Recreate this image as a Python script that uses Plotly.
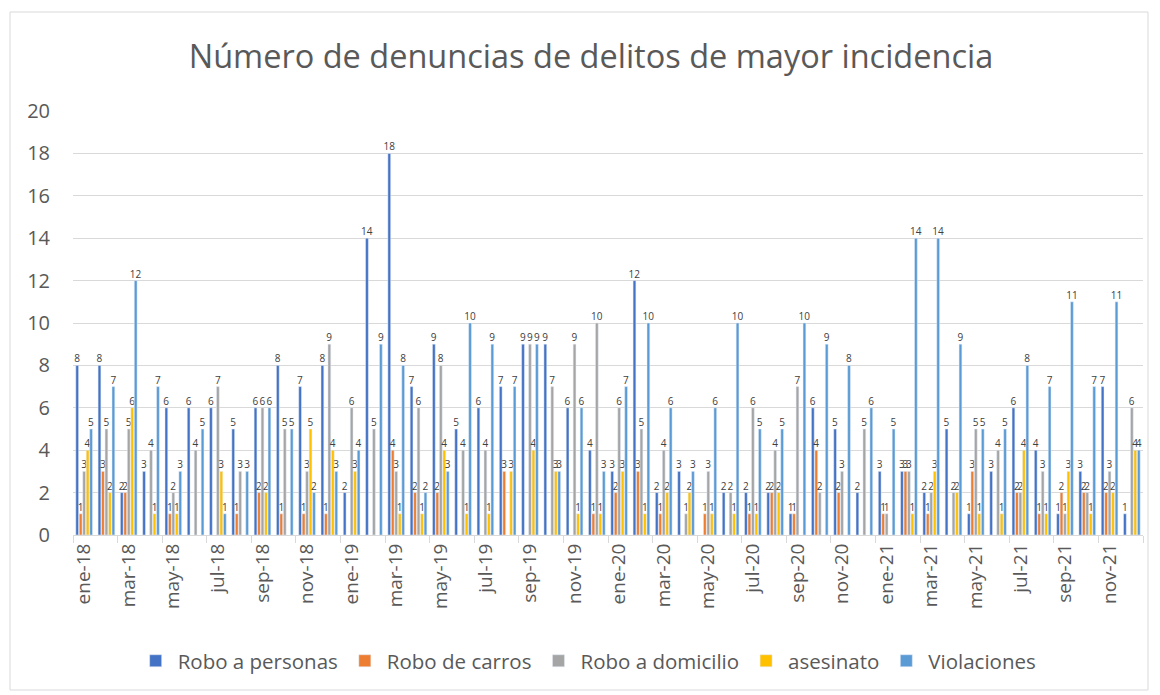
import plotly.graph_objects as go

# month labels ene-18 ... dic-21
meses = ["ene", "feb", "mar", "abr", "may", "jun", "jul", "ago", "sep", "oct", "nov", "dic"]
anios = ["18", "19", "20", "21"]
periodos = [f"{m}-{a}" for a in anios for m in meses]

robo_personas = [8, 8, 2, 3, 6, 6, 6, 5, 6, 8, 7, 8,
                 2, 14, 18, 7, 9, 5, 6, 7, 9, 9, 6, 4,
                 3, 12, 2, 3, None, 2, 2, 2, 1, 6, 5, 2,
                 3, 3, 2, 5, 1, 3, 6, 4, 1, 3, 7, 1]
robo_carros = [1, 3, 2, None, 1, None, None, 1, 2, 1, 1, 1,
               None, None, 4, 2, 2, None, None, 3, None, None, None, 1,
               2, 3, 1, None, 1, None, 1, 2, 1, 4, 2, None,
               1, 3, 1, None, 3, None, 2, 1, 2, 2, 2, None]
robo_domicilio = [3, 5, 5, 4, 2, 4, 7, 3, 6, 5, 3, 9,
                  6, 5, 3, 6, 8, 4, 4, None, 9, 7, 9, 10,
                  6, 5, 4, 1, 3, 2, 6, 4, 7, 2, 3, 5,
                  1, 3, 2, 2, 5, 4, 2, 3, 1, 2, 3, 6]
asesinato = [4, 2, 6, 1, 1, None, 3, None, 2, None, 5, 4,
             3, None, 1, 1, 4, 1, 1, 3, 4, 3, 1, 1,
             3, 1, 2, 2, 1, 1, 1, 2, None, None, None, None,
             None, 1, 3, 2, 1, 1, 4, 1, 3, 1, 2, 4]
violaciones = [5, 7, 12, 7, 3, 5, 1, 3, 6, 5, 2, 3,
               4, 9, 8, 2, 3, 10, 9, 7, 9, 3, 6, 3,
               7, 10, 6, 3, 6, 10, 5, 5, 10, 9, 8, 6,
               5, 14, 14, 9, 5, 5, 8, 7, 11, 7, 11, 4]

series = [
    ("Robo a personas", robo_personas, "#4472C4"),
    ("Robo de carros", robo_carros, "#ED7D31"),
    ("Robo a domicilio", robo_domicilio, "#A5A5A5"),
    ("asesinato", asesinato, "#FFC000"),
    ("Violaciones", violaciones, "#5B9BD5"),
]

FONT = "Open Sans"
GRAY = "#595959"

# page body has an 8px margin, so the figure is drawn 8px in from the corner
W, H = 1152, 687
L, T, PW, PH = 65, 103, 1070, 424

fig = go.Figure()
for name, vals, color in series:
    fig.add_trace(
        go.Bar(
            x=periodos,
            y=vals,
            name=name,
            marker_color=color,
            text=["" if v is None else str(v) for v in vals],
            textposition="outside",
            textfont=dict(family=FONT, size=10, color="#404040"),
            constraintext="none",
            cliponaxis=False,
        )
    )

fig.update_layout(
    width=W,
    height=H,
    barmode="group",
    bargap=0.22,
    bargroupgap=0.2,
    plot_bgcolor="white",
    paper_bgcolor="white",
    margin=dict(l=L, r=W - L - PW, t=T, b=H - T - PH, autoexpand=False),
    font=dict(family=FONT, color=GRAY),
    title=dict(
        text="Número de denuncias de delitos de mayor incidencia",
        x=583 / W,
        xanchor="center",
        y=1 - 49 / H,
        yanchor="middle",
        font=dict(family=FONT, size=32.5, color=GRAY),
    ),
    legend=dict(
        orientation="h",
        x=0.481,
        xanchor="center",
        y=-0.297,
        yanchor="middle",
        font=dict(family=FONT, size=20.5, color=GRAY),
        itemwidth=34,
    ),
    showlegend=True,
)

fig.update_xaxes(
    type="category",
    dtick=2,
    tickson="boundaries",
    ticks="outside",
    ticklen=7,
    tickcolor="#D9D9D9",
    tickangle=-90,
    tickfont=dict(family=FONT, size=19, color=GRAY),
    showline=True,
    linecolor="#D9D9D9",
    showgrid=False,
    automargin=False,
)
fig.update_yaxes(
    range=[0, 20],
    dtick=2,
    showgrid=True,
    gridcolor="#D9D9D9",
    zeroline=False,
    ticks="",
    tickfont=dict(family=FONT, size=20, color=GRAY),
    ticklabelstandoff=22,
    automargin=False,
)

# outer chart border
fig.add_shape(
    type="rect",
    xref="paper", yref="paper",
    x0=(2 - L) / PW, x1=(1140 - L) / PW,
    y0=(T + PH - 682) / PH, y1=(T + PH - 4) / PH,
    line=dict(color="#D9D9D9", width=1),
    layer="below",
)

fig.write_html("out.html")
